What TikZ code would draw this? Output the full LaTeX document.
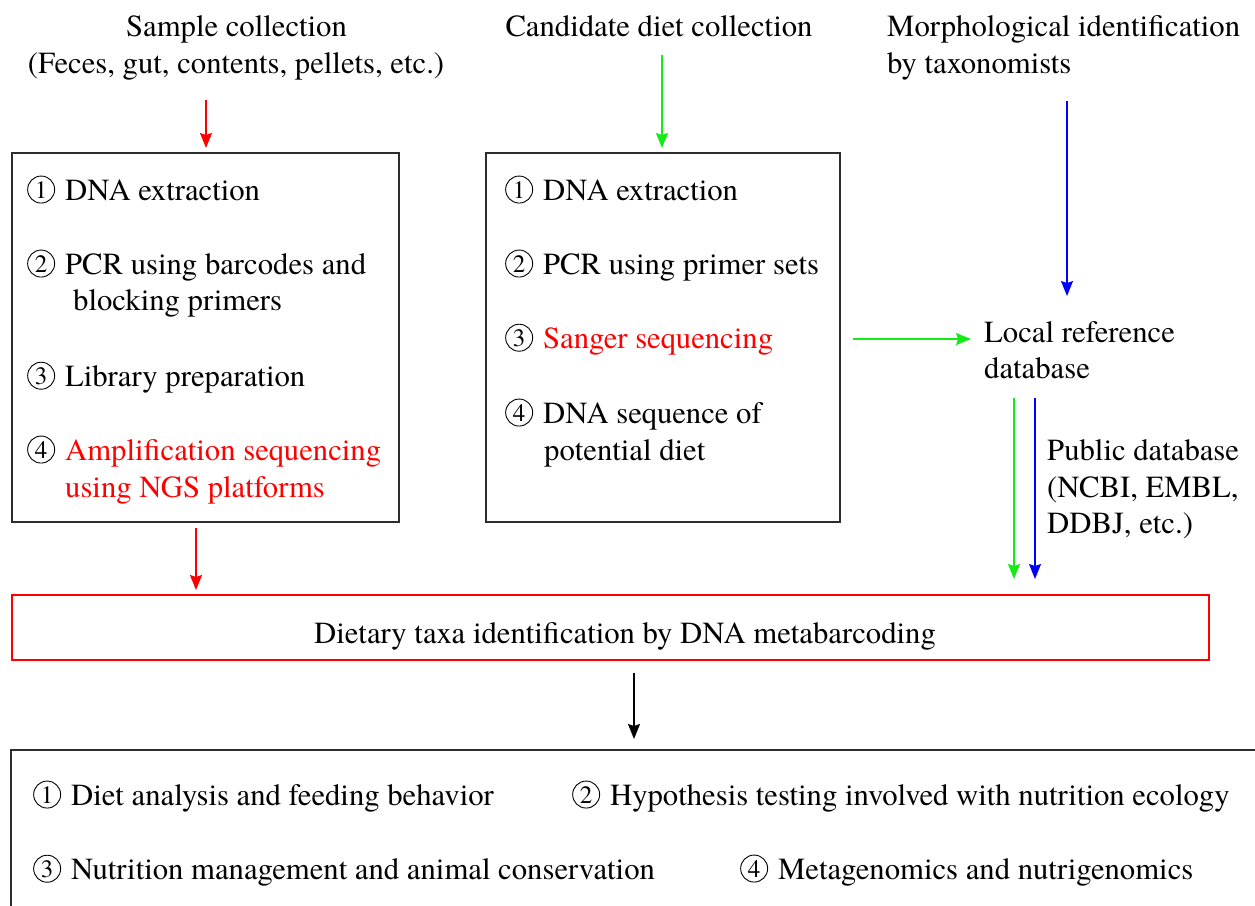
\documentclass[tikz,border=0pt]{standalone}
\usepackage{fontspec}
\setmainfont{texgyretermes}[Extension=.otf,UprightFont=*-regular,BoldFont=*-bold,ItalicFont=*-italic,BoldItalicFont=*-bolditalic]
\usetikzlibrary{arrows.meta}
\definecolor{myred}{RGB}{255,0,0}
\definecolor{mygreen}{RGB}{20,235,20}
\definecolor{myblue}{RGB}{0,0,255}
\definecolor{boxgray}{RGB}{45,45,45}
\newcommand{\cnum}[1]{\tikz[baseline={([yshift=-2pt]cnumnode.base)}]\node[circle,draw=black,line width=0.9pt,inner sep=0pt,minimum size=27pt,text=black,font=\fontsize{25}{25}\selectfont](cnumnode){#1};\hspace{10pt}}
\begin{document}
\begin{tikzpicture}[x=1pt,y=-1pt,
  txt/.style={anchor=base west,inner sep=0pt,font=\fontsize{30.7}{37}\selectfont},
  ctxt/.style={anchor=base,inner sep=0pt,font=\fontsize{30.7}{37}\selectfont},
  boxline/.style={draw=boxgray,line width=1.5pt},
  arr/.style={line width=1.4pt,-{Stealth[length=15pt,width=12pt,inset=2pt]}},
  pt/.style={inner sep=0pt,outer sep=0pt}]
\useasboundingbox (0,0) rectangle (1255,905);

% top titles
\node[ctxt] (s1) at (236.5,36) {Sample collection};
\node[ctxt] (s2) at (236,73) {(Feces, gut, contents, pellets, etc.)};
\node[ctxt] (c1) at (659,36) {Candidate diet collection};
\node[txt] (m1) at (887,36) {Morphological identification};
\node[txt] (m2) at (887,73) {by taxonomists};

% left box
\node[pt,boxline,anchor=north west,minimum width=387pt,minimum height=369pt] (lbox) at (12,153) {};
\node[txt] (l1) at (27,200) {\cnum{1}DNA extraction};
\node[txt] (l2) at (27,274) {\cnum{2}PCR using barcodes and};
\node[txt] (l2b) at (73,310) {blocking primers};
\node[txt] (l3) at (27,386) {\cnum{3}Library preparation};
\node[txt] (l4) at (27,460) {\cnum{4}\textcolor{myred}{Amplification sequencing}};
\node[txt,text=myred] (l4b) at (65,497) {using NGS platforms};

% middle box
\node[pt,boxline,anchor=north west,minimum width=354pt,minimum height=369pt] (mbox) at (486,153) {};
\node[txt] (d1) at (505,200) {\cnum{1}DNA extraction};
\node[txt] (d2) at (505,274) {\cnum{2}PCR using primer sets};
\node[txt] (d3) at (505,348) {\cnum{3}\textcolor{myred}{Sanger sequencing}};
\node[txt] (d4) at (505,423) {\cnum{4}DNA sequence of};
\node[txt] (d4b) at (544,460) {potential diet};

% right texts
\node[txt] (r1) at (984,342) {Local reference};
\node[txt] (r2) at (984,378) {database};
\node[txt] (p1) at (1047,460) {Public database};
\node[txt] (p2) at (1047,497) {(NCBI, EMBL,};
\node[txt] (p3) at (1047,533) {DDBJ, etc.)};

% red box
\node[pt,draw=myred,line width=1.5pt,anchor=north west,minimum width=1197pt,minimum height=65pt] (rbox) at (12,595) {};
\node[ctxt] (rt) at (625,643) {Dietary taxa identification by DNA metabarcoding};

% bottom box (open at right and bottom)
\coordinate (bb1) at (1262,750);
\coordinate (bb2) at (11,750);
\coordinate (bb3) at (11,912);
\draw[boxline] (bb1) -- (bb2) -- (bb3);
\node[txt] (b1) at (33,805) {\cnum{1}Diet analysis and feeding behavior};
\node[txt] (b2) at (572,805) {\cnum{2}Hypothesis testing involved with nutrition ecology};
\node[txt] (b3) at (33,879) {\cnum{3}Nutrition management and animal conservation};
\node[txt] (b4) at (740,879) {\cnum{4}Metagenomics and nutrigenomics};

% arrow endpoints
\coordinate (a1s) at (206,100); \coordinate (a1e) at (206,148);
\coordinate (a2s) at (662,55);  \coordinate (a2e) at (662,148);
\coordinate (a3s) at (1067,101); \coordinate (a3e) at (1067,296);
\coordinate (a4s) at (853,339); \coordinate (a4e) at (971,339);
\coordinate (a5s) at (1014,398); \coordinate (a5e) at (1014,579);
\coordinate (a6s) at (1035,398); \coordinate (a6e) at (1035,579);
\coordinate (a7s) at (196,528); \coordinate (a7e) at (196,590);
\coordinate (a8s) at (634,673); \coordinate (a8e) at (634,739);

\draw[arr,myred] (a1s) -- (a1e);
\draw[arr,mygreen] (a2s) -- (a2e);
\draw[arr,myblue] (a3s) -- (a3e);
\draw[arr,mygreen] (a4s) -- (a4e);
\draw[arr,mygreen] (a5s) -- (a5e);
\draw[arr,myblue] (a6s) -- (a6e);
\draw[arr,myred] (a7s) -- (a7e);
\draw[arr,black] (a8s) -- (a8e);
\end{tikzpicture}
\end{document}
